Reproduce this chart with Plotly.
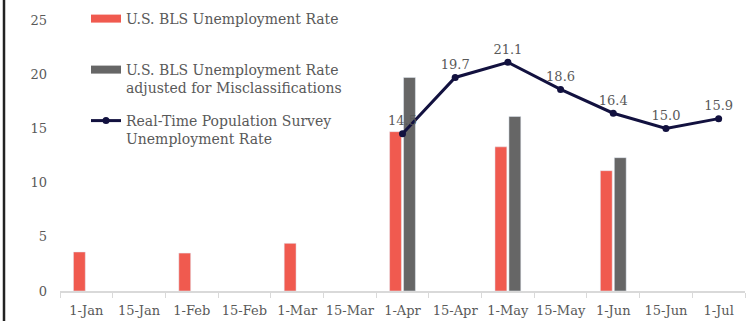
import plotly.graph_objects as go

categories = ["1-Jan", "15-Jan", "1-Feb", "15-Feb", "1-Mar", "15-Mar", "1-Apr",
              "15-Apr", "1-May", "15-May", "1-Jun", "15-Jun", "1-Jul"]
bls_rate = [3.6, None, 3.5, None, 4.4, None, 14.7, None, 13.3, None, 11.1, None, None]
bls_adjusted = [None, None, None, None, None, None, 19.7, None, 16.1, None, 12.3, None, None]
rps_dates = ["1-Apr", "15-Apr", "1-May", "15-May", "1-Jun", "15-Jun", "1-Jul"]
rps_rate = [14.5, 19.7, 21.1, 18.6, 16.4, 15.0, 15.9]
y_ticks = [0, 5, 10, 15, 20, 25]

FONT = "DejaVu Serif"
TXT = "#595959"
RED = "#f05a4f"
GRAY = "#666666"
NAVY = "#12113f"
W, H = 751, 321
L, R, T, B = 60, 6, 20, 30
pw, ph = W - L - R, H - T - B

def px(xpix):
    return (xpix - L) / pw

def py(ypix):
    return 1 - (ypix - T) / ph

name1 = "U.S. BLS Unemployment Rate"
name2 = "U.S. BLS Unemployment Rate<br>adjusted for Misclassifications"
name3 = "Real-Time Population Survey<br>Unemployment Rate"

fig = go.Figure()
fig.add_trace(go.Bar(x=categories, y=bls_rate, name=name1, showlegend=False,
                     marker=dict(color=RED)))
fig.add_trace(go.Bar(x=categories, y=bls_adjusted, name=name2, showlegend=False,
                     marker=dict(color=GRAY)))
fig.add_trace(go.Scatter(x=rps_dates, y=rps_rate, mode="lines+markers+text",
                         name=name3, showlegend=False,
                         line=dict(color=NAVY, width=3),
                         marker=dict(size=7, color=NAVY),
                         text=[f"{v:.1f}" for v in rps_rate], textposition="top center",
                         textfont=dict(family=FONT, size=13, color=TXT)))
# legend entries
fig.add_trace(go.Scatter(x=[None], y=[None], mode="lines", name=name1,
                         line=dict(color=RED, width=8), legend="legend", showlegend=True))
fig.add_trace(go.Scatter(x=[None], y=[None], mode="lines", name=name2,
                         line=dict(color=GRAY, width=8), legend="legend2", showlegend=True))
fig.add_trace(go.Scatter(x=[None], y=[None], mode="lines+markers", name=name3,
                         line=dict(color=NAVY, width=3), marker=dict(size=7, color=NAVY),
                         legend="legend3", showlegend=True))

leg_common = dict(font=dict(family=FONT, size=14, color=TXT), bgcolor="rgba(0,0,0,0)",
                  xanchor="left", yanchor="middle", itemwidth=30, valign="top")
lx = px(86)
fig.update_layout(
    width=W, height=H, margin=dict(l=L, r=R, t=T, b=B, autoexpand=False),
    plot_bgcolor="white", paper_bgcolor="white", showlegend=True,
    barmode="group", bargap=0.47, bargroupgap=0.15,
    font=dict(family=FONT, size=13, color=TXT),
    legend=dict(x=lx, y=py(19), **leg_common),
    legend2=dict(x=lx, y=py(79), **leg_common),
    legend3=dict(x=lx, y=py(130), **leg_common),
    xaxis=dict(type="category", categoryorder="array", categoryarray=categories,
               range=[-0.5, 12.5], tickangle=0, automargin=False,
               showline=True, linecolor="#d9d9d9", linewidth=1.5,
               ticks="outside", tickson="boundaries", tickcolor="#d9d9d9", ticklen=5,
               ticklabelstandoff=7,
               tickfont=dict(family=FONT, size=13, color=TXT), showgrid=False),
    yaxis=dict(range=[0, 25], tickvals=y_ticks, showgrid=False, zeroline=False,
               showline=False, ticklabelstandoff=12, automargin=False,
               tickfont=dict(family=FONT, size=13, color=TXT)),
    shapes=[dict(type="line", xref="paper", yref="paper", x0=px(4), x1=px(4),
                 y0=py(0), y1=py(H), line=dict(color="#222222", width=2.5))],
)
fig.write_html("out.html")
